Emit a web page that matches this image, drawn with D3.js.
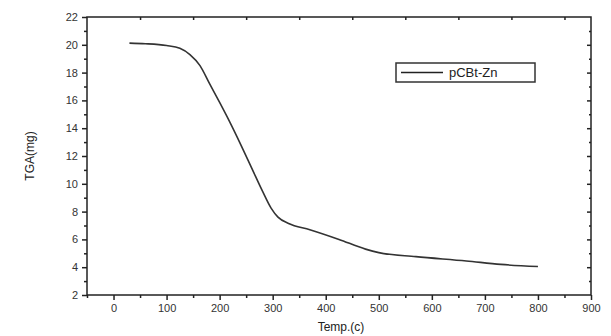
<!DOCTYPE html>
<html>
<head>
<meta charset="utf-8">
<script src="https://cdn.jsdelivr.net/npm/d3@7/dist/d3.min.js"></script>
<style>
  body { margin: 0; background: #fff; }
  svg { display: block; font-family: "Liberation Sans", Arial, sans-serif; }
  .tick-label { font-size: 11px; fill: #333; }
  .axis-title { font-size: 12px; fill: #222; }
</style>
</head>
<body>
<div id="chart"></div>
<script>
// TGA curve
const temps = [30, 60, 100, 125, 144, 163, 181, 200, 219, 240, 262, 281, 297, 310, 330, 370, 425, 475, 500, 570, 665, 730, 800];
const masses = [20.12, 20.08, 19.95, 19.75, 19.3, 18.5, 17.2, 15.85, 14.45, 12.8, 11.0, 9.45, 8.25, 7.6, 7.15, 6.7, 6.0, 5.3, 5.05, 4.76, 4.45, 4.2, 4.05];
const seriesName = "pCBt-Zn";

const xTicks = [0, 100, 200, 300, 400, 500, 600, 700, 800, 900];
const xMinor = [-50, 50, 150, 250, 350, 450, 550, 650, 750, 850];
const yTicks = [2, 4, 6, 8, 10, 12, 14, 16, 18, 20, 22];
const yMinor = [3, 5, 7, 9, 11, 13, 15, 17, 19, 21];

const WIDTH = 611, HEIGHT = 336;
const LEFT = 87, RIGHT = 591, TOP = 17, BOTTOM = 295;

const svg = d3.select("#chart").append("svg")
    .attr("width", WIDTH)
    .attr("height", HEIGHT);

const x = d3.scaleLinear().domain([-50, 900]).range([LEFT, RIGHT]);
const y = d3.scaleLinear().domain([2, 22]).range([BOTTOM, TOP]);

// bottom axis, outward ticks
const bottomAxis = svg.append("g").attr("transform", `translate(0,${BOTTOM})`);
bottomAxis.call(d3.axisBottom(x).tickValues(xMinor).tickSize(3).tickFormat(""));
bottomAxis.call(g => g.append("g").call(d3.axisBottom(x).tickValues(xTicks).tickSize(5).tickPadding(4)));
bottomAxis.selectAll(".domain").remove();
bottomAxis.selectAll("text").attr("class", "tick-label").attr("font-size", null).attr("fill", null).attr("font-family", null);

// top axis, ticks pointing down into the plot
const topAxis = svg.append("g").attr("transform", `translate(0,${TOP})`);
topAxis.call(d3.axisTop(x).tickValues(xMinor.filter(v => v > -50)).tickSize(-3).tickFormat(""));
topAxis.selectAll(".domain").remove();

// left axis, outward ticks
const leftAxis = svg.append("g").attr("transform", `translate(${LEFT},0)`);
leftAxis.call(d3.axisLeft(y).tickValues(yMinor).tickSize(3).tickFormat(""));
leftAxis.call(g => g.append("g").call(d3.axisLeft(y).tickValues(yTicks).tickSize(5).tickPadding(4)));
leftAxis.selectAll(".domain").remove();
leftAxis.selectAll("text").attr("class", "tick-label").attr("font-size", null).attr("fill", null).attr("font-family", null);

// right axis, ticks pointing into the plot
const rightAxis = svg.append("g").attr("transform", `translate(${RIGHT},0)`);
rightAxis.call(d3.axisRight(y).tickValues(yTicks.slice(1, -1)).tickSize(-4).tickFormat(""));
rightAxis.call(g => g.append("g").call(d3.axisRight(y).tickValues(yMinor).tickSize(-2).tickFormat("")));
rightAxis.selectAll(".domain").remove();

svg.selectAll(".tick line").attr("stroke", "#222").attr("stroke-width", 1.5);

// frame
svg.append("rect")
    .attr("x", LEFT).attr("y", TOP)
    .attr("width", RIGHT - LEFT).attr("height", BOTTOM - TOP)
    .attr("fill", "none").attr("stroke", "#222").attr("stroke-width", 1.5);

// curve
const line = d3.line()
    .x((d, i) => x(temps[i]))
    .y(d => y(d))
    .curve(d3.curveMonotoneX);

svg.append("path")
    .datum(masses)
    .attr("d", line)
    .attr("fill", "none")
    .attr("stroke", "#333")
    .attr("stroke-width", 1.6);

// legend
const legend = svg.append("g").attr("transform", "translate(396,63)");
legend.append("rect")
    .attr("width", 139).attr("height", 19)
    .attr("fill", "#fff").attr("stroke", "#333").attr("stroke-width", 1.5);
legend.append("line")
    .attr("x1", 5).attr("x2", 47).attr("y1", 9.5).attr("y2", 9.5)
    .attr("stroke", "#222").attr("stroke-width", 1.5);
legend.append("text")
    .attr("x", 53).attr("y", 14)
    .attr("font-size", 13)
    .attr("fill", "#222")
    .text(seriesName);

// axis titles
svg.append("text")
    .attr("class", "axis-title")
    .attr("transform", `translate(34,${(TOP + BOTTOM) / 2}) rotate(-90)`)
    .attr("text-anchor", "middle")
    .text("TGA(mg)");

svg.append("text")
    .attr("class", "axis-title")
    .attr("x", (LEFT + RIGHT) / 2 + 2)
    .attr("y", 331)
    .attr("text-anchor", "middle")
    .text("Temp.(c)");
</script>
</body>
</html>
